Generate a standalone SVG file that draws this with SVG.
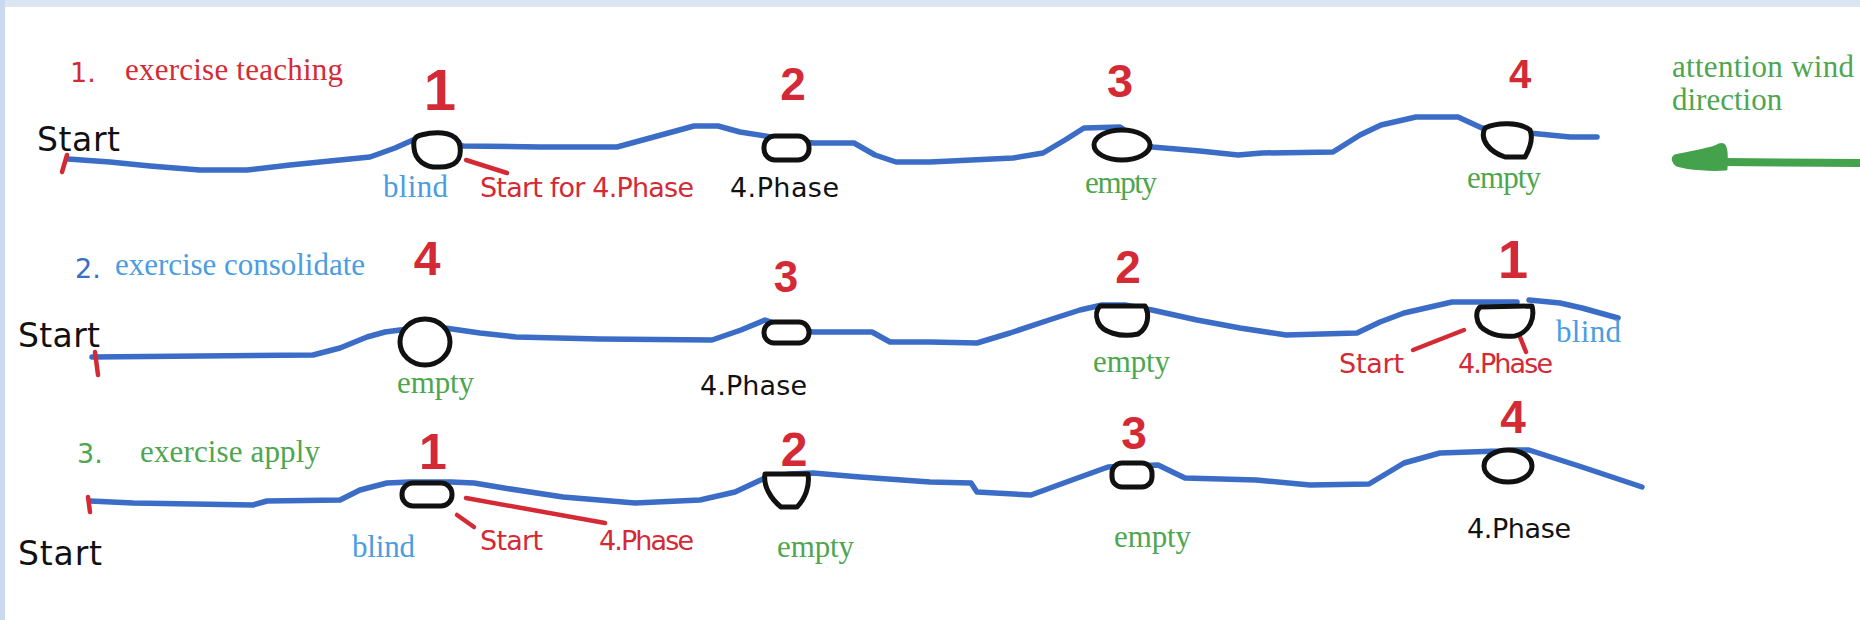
<svg xmlns="http://www.w3.org/2000/svg" width="1860" height="620" viewBox="0 0 1860 620">
<style>
.bg{fill:#ffffff}
.band{fill:#dce6f2}
.track{fill:none;stroke:#3b6cc6;stroke-width:5.5;stroke-linejoin:round;stroke-linecap:round}
.node{fill:#ffffff;stroke:#111111;stroke-width:5;stroke-linejoin:round}
.red{stroke:#d42a35;stroke-width:4.5;stroke-linecap:round;fill:none}
.hand{font-family:"DejaVu Sans","Liberation Sans",sans-serif;font-size:27px}
.big{font-size:33px}
.ser{font-family:"Liberation Serif","DejaVu Serif",serif;font-size:31px}
.num{font-family:"Liberation Sans","DejaVu Sans",sans-serif;font-weight:bold;fill:#d42a35;text-anchor:middle}
.cr{fill:#d42a35}.cb{fill:#111111}.cl{fill:#4a9de0}.cg{fill:#4ea64f}.cd{fill:#3b6cc6}
</style>
<rect class="bg" x="0" y="0" width="1860" height="620"/>
<rect class="band" x="0" y="0" width="1860" height="7"/>
<rect x="0" y="0" width="5" height="620" fill="#c9d9ee"/>

<g id="connectors">
  <polyline class="track" points="68,159 110,162 150,166 200,170 247,170 290,165 330,161 370,157 395,148 413,140 440,140 463,146 540,147 617,147 650,138 694,126 718,126 740,132 765,136 790,140 813,143 854,143 875,155 896,162 930,162 1013,158 1043,153 1065,140 1084,128 1120,127 1140,140 1152,147 1200,151 1238,155 1262,153 1333,152 1360,135 1381,125 1416,117 1458,117 1482,128 1505,130 1529,133 1570,137 1597,137"/>
  <polyline class="track" points="92,357 200,356 313,355 340,348 367,337 385,332 400,330 425,328 445,328 480,333 516,337 600,339 712,340 741,330 765,320 790,328 813,332 872,332 890,342 930,342 977,343 1010,333 1049,320 1080,310 1102,305 1125,305 1152,310 1197,320 1240,328 1286,335 1357,333 1380,322 1404,313 1452,302 1517,302"/>
  <polyline class="track" points="1529,300 1560,303 1582,308 1618,318"/>
  <polyline class="track" points="90,501 133,503 253,505 267,501 340,500 360,490 387,483 410,482 430,482 451,482 474,483 504,488 563,497 635,503 700,500 735,492 765,478 790,474 813,473 860,477 930,482 971,483 977,492 1031,495 1072,480 1108,467 1130,466 1158,465 1185,478 1256,480 1310,485 1369,484 1404,463 1440,453 1499,451 1515,450 1529,450 1582,467 1642,487"/>
  <line class="red" x1="67" y1="155" x2="62" y2="172"/>
  <line class="red" x1="95" y1="352" x2="98" y2="375"/>
  <line class="red" x1="88" y1="497" x2="90" y2="512"/>
  <line class="red" x1="466" y1="160" x2="507" y2="173"/>
  <line class="red" x1="1413" y1="350" x2="1464" y2="330"/>
  <line class="red" x1="1520" y1="337" x2="1526" y2="352"/>
  <line class="red" x1="466" y1="498" x2="605" y2="523"/>
  <line class="red" x1="457" y1="515" x2="474" y2="527"/>
  <line x1="1723" y1="162" x2="1860" y2="163" stroke="#45a24c" stroke-width="8" stroke-linecap="round"/>
  <path d="M1675,156 C1690,152 1712,150 1719,145 C1726,142 1727,150 1726,169 C1712,170 1690,169 1677,165 C1673,162 1672,158 1675,156 Z" fill="#45a24c" stroke="#45a24c" stroke-width="3" stroke-linejoin="round"/>
</g>

<g id="labels">
  <text class="hand cr" x="70" y="82" font-size="30">1.</text>
  <text class="ser cr" x="125" y="80" textLength="218">exercise teaching</text>
  <text class="hand big cb" x="37" y="151" textLength="83">Start</text>
  <text class="hand cd" x="75" y="278" font-size="30">2.</text>
  <text class="ser cl" x="115" y="275" textLength="250">exercise consolidate</text>
  <text class="hand big cb" x="18" y="347" textLength="82">Start</text>
  <text class="hand cg" x="77" y="463" font-size="30">3.</text>
  <text class="ser cg" x="140" y="462" textLength="180">exercise apply</text>
  <text class="hand big cb" x="18" y="565" textLength="84">Start</text>
  <text class="ser cg" x="1672" y="77" font-size="30" textLength="182">attention wind</text>
  <text class="ser cg" x="1672" y="110" font-size="30">direction</text>
</g>

<g id="r1n1">
  <path class="node" d="M421,135 C440,130 458,133 460,146 C462,160 455,167 440,167 C425,168 415,160 414,148 C413,140 415,136 421,135 Z"/>
  <text class="num" x="440" y="110" font-size="58">1</text>
  <text class="ser cl" x="383" y="197" textLength="65">blind</text>
  <text class="hand cr" x="480" y="197" textLength="214">Start for 4.Phase</text>
</g>
<g id="r1n2">
  <rect class="node" x="764" y="136" width="45" height="24" rx="11"/>
  <text class="num" x="793" y="100" font-size="46">2</text>
  <text class="hand cb" x="730" y="197" textLength="109">4.Phase</text>
</g>
<g id="r1n3">
  <ellipse class="node" cx="1122" cy="145" rx="28" ry="15"/>
  <text class="num" x="1120" y="97" font-size="47">3</text>
  <text class="ser cg" x="1085" y="193" textLength="72">empty</text>
</g>
<g id="r1n4">
  <path class="node" d="M1485,128 C1497,122 1520,122 1530,130 C1534,140 1529,150 1525,157 L1505,157 C1490,152 1479,140 1485,128 Z"/>
  <text class="num" x="1520" y="88" font-size="40">4</text>
  <text class="ser cg" x="1467" y="188" textLength="74">empty</text>
</g>

<g id="r2n4">
  <ellipse class="node" cx="425" cy="342" rx="25" ry="23" stroke-width="7"/>
  <text class="num" x="427" y="275" font-size="48">4</text>
  <text class="ser cg" x="397" y="393" textLength="77">empty</text>
</g>
<g id="r2n3">
  <rect class="node" x="764" y="322" width="45" height="21" rx="10"/>
  <text class="num" x="786" y="292" font-size="44">3</text>
  <text class="hand cb" x="700" y="395" textLength="107">4.Phase</text>
</g>
<g id="r2n2">
  <path class="node" d="M1100,306 L1145,306 C1150,315 1148,328 1138,334 C1120,338 1102,332 1098,322 C1095,315 1097,309 1100,306 Z"/>
  <text class="num" x="1128" y="283" font-size="46">2</text>
  <text class="ser cg" x="1093" y="372" textLength="77">empty</text>
</g>
<g id="r2n1">
  <path class="node" d="M1480,307 L1532,306 C1535,318 1530,332 1515,336 C1495,338 1478,330 1477,318 C1476,312 1478,309 1480,307 Z"/>
  <text class="num" x="1513" y="278" font-size="54">1</text>
  <text class="hand cr" x="1339" y="373" textLength="65">Start</text>
  <text class="hand cr" x="1458" y="373" textLength="95">4.Phase</text>
  <text class="ser cl" x="1556" y="342" textLength="65">blind</text>
</g>

<g id="r3n1">
  <rect class="node" x="402" y="483" width="50" height="23" rx="11"/>
  <text class="num" x="433" y="469" font-size="50">1</text>
  <text class="ser cl" x="352" y="557" textLength="63">blind</text>
  <text class="hand cr" x="480" y="550" textLength="63">Start</text>
  <text class="hand cr" x="599" y="550" textLength="95">4.Phase</text>
</g>
<g id="r3n2">
  <path class="node" d="M765,474 L808,474 C810,486 805,499 797,507 L781,507 C771,499 763,486 765,474 Z"/>
  <text class="num" x="794" y="466" font-size="48">2</text>
  <text class="ser cg" x="777" y="557" textLength="77">empty</text>
</g>
<g id="r3n3">
  <rect class="node" x="1112" y="463" width="40" height="24" rx="10"/>
  <text class="num" x="1134" y="449" font-size="46">3</text>
  <text class="ser cg" x="1114" y="547" textLength="77">empty</text>
</g>
<g id="r3n4">
  <ellipse class="node" cx="1508" cy="466" rx="24" ry="16"/>
  <text class="num" x="1513" y="433" font-size="46">4</text>
  <text class="hand cb" x="1467" y="538" textLength="104">4.Phase</text>
</g>
</svg>
